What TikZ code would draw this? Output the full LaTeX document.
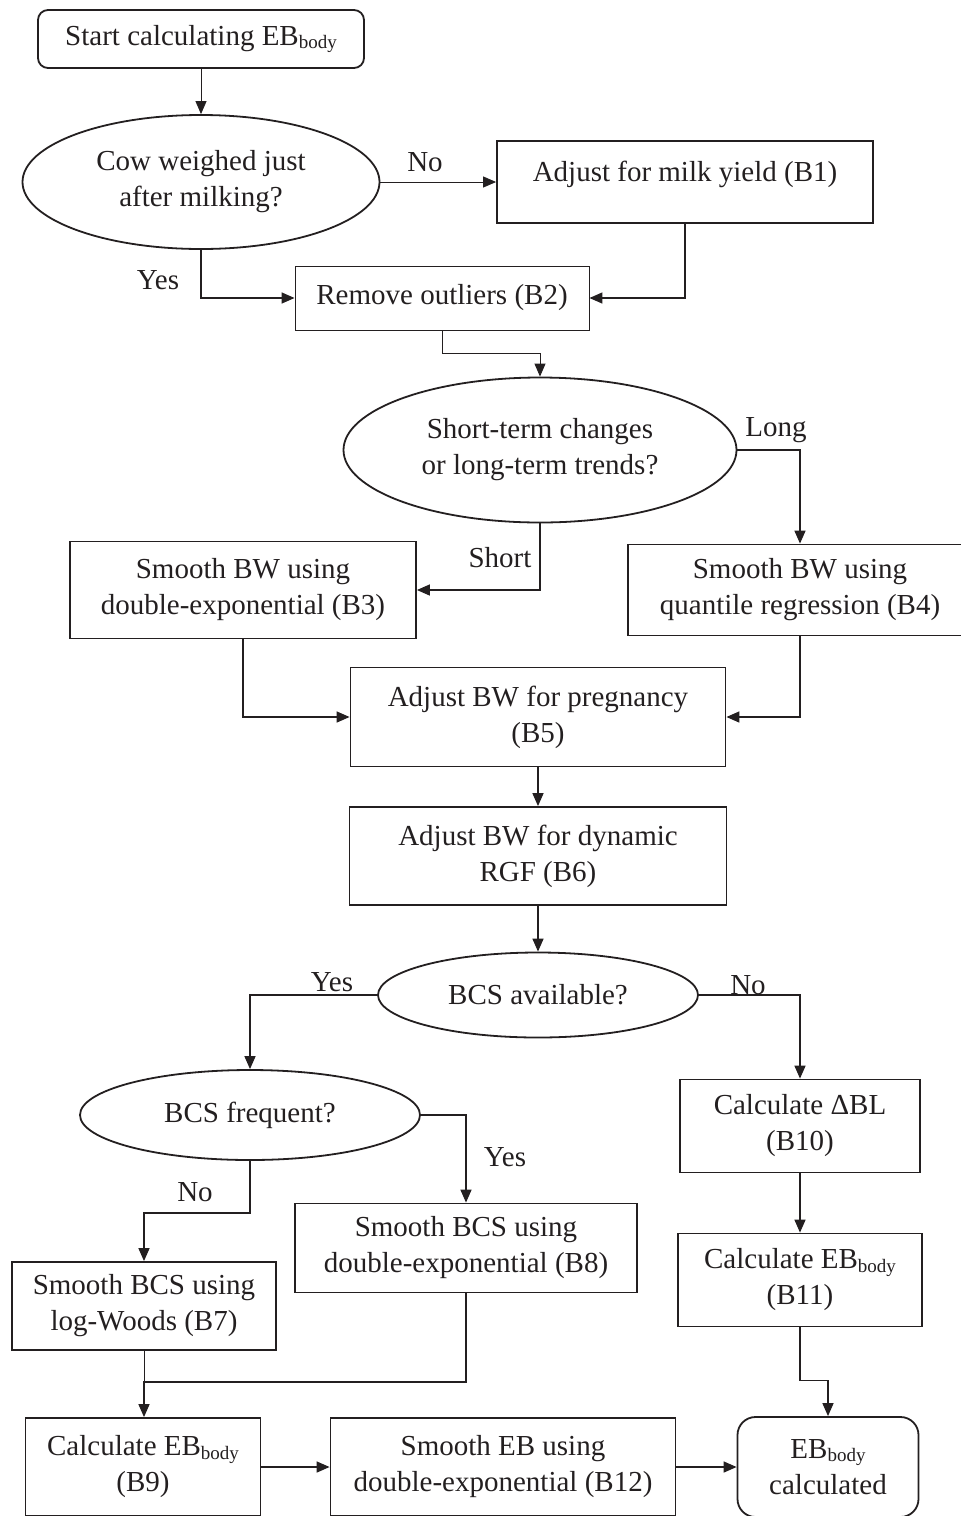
\documentclass[tikz,border=0pt]{standalone}
\usepackage{fontspec}
\setmainfont{Liberation Serif}
\usetikzlibrary{shapes.geometric,arrows.meta}
\definecolor{ink}{RGB}{35,31,32}
\newcommand{\ebsub}{\raisebox{-0.12em}{\fontsize{19}{19}\selectfont body}}
\begin{document}
\begin{tikzpicture}[x=1pt,y=-1pt, font=\fontsize{29}{36}\selectfont,
 every node/.style={text=ink},
 box/.style={draw=ink, line width=1.8pt, rectangle, align=center, inner sep=0pt},
 thinbox/.style={box, line width=0.9pt},
 rbox/.style={box, rounded corners=10pt},
 dec/.style={draw=ink, line width=1.8pt, ellipse, align=center, inner sep=0pt},
 arr/.style={draw=ink, line width=1.5pt, -{Triangle[length=13pt,width=11pt]}},
 thinarr/.style={arr, line width=0.9pt},
 conn/.style={draw=ink, line width=1.5pt},
 thinconn/.style={draw=ink, line width=0.9pt},
 lab/.style={inner sep=0pt}]
\useasboundingbox (0,0) rectangle (961,1516);
\clip (0,0) rectangle (961,1516);

\node[rbox, minimum width=326pt, minimum height=58pt] (start) at (201,39) {Start calculating EB\ebsub};
\node[dec, minimum width=357pt, minimum height=134pt] (e1) at (201,182) {Cow weighed just\\after milking?};
\node[box, minimum width=376pt, minimum height=82pt] (b1) at (685,182) {\raisebox{8pt}[\height][\depth]{Adjust for milk yield (B1)}};
\node[thinbox, minimum width=294pt, minimum height=64pt] (b2) at (442,298) {Remove outliers (B2)};
\node[dec, minimum width=393pt, minimum height=145pt] (e2) at (540,450) {Short-term changes\\or long-term trends?};
\node[box, minimum width=346pt, minimum height=97pt] (b3) at (243,590) {Smooth BW using\\double-exponential (B3)};
\node[box, minimum width=344pt, minimum height=91pt] (b4) at (800,590) {Smooth BW using\\quantile regression (B4)};
\node[box, minimum width=375pt, minimum height=99pt] (b5) at (538,717) {Adjust BW for pregnancy\\(B5)};
\node[box, minimum width=377pt, minimum height=98pt] (b6) at (538,856) {Adjust BW for dynamic\\RGF (B6)};
\node[dec, minimum width=320pt, minimum height=85pt] (e3) at (538,995) {BCS available?};
\node[dec, minimum width=340pt, minimum height=90pt] (e4) at (250,1115) {BCS frequent?};
\node[box, minimum width=240pt, minimum height=93pt] (b10) at (800,1126) {Calculate ΔBL\\(B10)};
\node[box, minimum width=342pt, minimum height=89pt] (b8) at (466,1248) {Smooth BCS using\\double-exponential (B8)};
\node[box, minimum width=264pt, minimum height=88pt] (b7) at (144,1306) {Smooth BCS using\\log-Woods (B7)};
\node[box, minimum width=244pt, minimum height=93pt] (b11) at (800,1280) {Calculate EB\ebsub\\(B11)};
\node[box, minimum width=235pt, minimum height=98pt] (b9) at (143,1467) {Calculate EB\ebsub\\(B9)};
\node[box, minimum width=345pt, minimum height=98pt] (b12) at (503,1467) {Smooth EB using\\double-exponential (B12)};
\node[rbox, rounded corners=18pt, minimum width=181pt, minimum height=100pt] (end) at (828,1467) {EB\ebsub\\calculated};

% labels
\node[lab] (lno1) at (425,162) {No};
\node[lab] (lyes1) at (158,280) {Yes};
\node[lab] (llong) at (776,430) {Long};
\node[lab] (lshort) at (500,558) {Short};
\node[lab] (lyes2) at (332,982) {Yes};
\node[lab] (lno2) at (748,985) {No};
\node[lab] (lyes3) at (505,1157) {Yes};
\node[lab] (lno3) at (195,1192) {No};

% connectors
\draw[thinarr] (start.south) -- (e1.north);
\draw[thinarr] (e1.east) -- (b1.west);
\draw[arr] (e1.south) |- (b2.west);
\draw[arr] (b1.south) |- (b2.east);
\draw[thinarr] (b2.south) -- ++(0,23) -| (e2.north);
\draw[arr] (e2.east) -| (b4.north);
\draw[arr] (e2.south) |- (b3.east);
\draw[arr] (b3.south) |- (b5.west);
\draw[arr] (b4.south) |- (b5.east);
\draw[arr] (b5.south) -- (b6.north);
\draw[arr] (b6.south) -- (e3.north);
\draw[arr] (e3.west) -| (e4.north);
\draw[arr] (e3.east) -| (b10.north);
\draw[arr] (e4.east) -| (b8.north);
\draw[arr] (e4.south) -- ++(0,52) -| (b7.north);
\coordinate (j) at (144,1382);
\draw[thinconn] (b7.south) -- (j);
\draw[arr] (b8.south) |- (j) -- (j |- b9.north);
\draw[arr] (b10.south) -- (b11.north);
\draw[arr] (b11.south) -- ++(0,53) -| (end.north);
\draw[arr] (b9.east) -- (b12.west);
\draw[arr] (b12.east) -- (end.west);
\end{tikzpicture}
\end{document}
